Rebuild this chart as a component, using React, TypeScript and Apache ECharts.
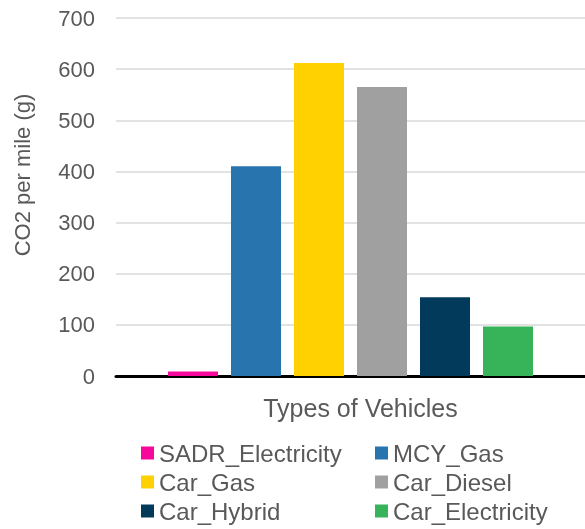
import React, { useEffect, useRef } from "react";
import * as echarts from "echarts";

// Vehicle types and their CO2 emissions per mile (grams)
const vehicleNames = [
  "SADR_Electricity",
  "MCY_Gas",
  "Car_Gas",
  "Car_Diesel",
  "Car_Hybrid",
  "Car_Electricity",
];
const co2PerMile = [9, 410, 612, 565, 154, 97];
const barColors = ["#F5089B", "#2874AE", "#FFD100", "#A0A0A0", "#023A5C", "#37B45A"];
const yTicks = { min: 0, max: 700, interval: 100 };

const FONT = "'Liberation Sans', Arial, sans-serif";
const TEXT_COLOR = "#595959";

export default function App() {
  const ref = useRef<HTMLDivElement>(null);

  useEffect(() => {
    if (!ref.current) return;
    const chart = echarts.init(ref.current, undefined, { renderer: "svg" });

    const legendCommon = {
      orient: "vertical" as const,
      top: 441,
      height: 100,
      padding: 0,
      icon: "rect",
      itemWidth: 13,
      itemHeight: 13,
      itemGap: 5,
      selectedMode: false,
      textStyle: {
        fontFamily: FONT,
        fontSize: 24,
        lineHeight: 24,
        color: TEXT_COLOR,
      },
    };

    chart.setOption({
      animation: false,
      textStyle: { fontFamily: FONT },
      grid: { left: 116, top: 18, right: 0, bottom: 153 },
      legend: [
        { ...legendCommon, left: 141, data: [vehicleNames[0], vehicleNames[2], vehicleNames[4]] },
        { ...legendCommon, left: 375, data: [vehicleNames[1], vehicleNames[3], vehicleNames[5]] },
      ],
      xAxis: {
        type: "category",
        data: [""],
        name: "Types of Vehicles",
        nameLocation: "middle",
        nameGap: 19,
        nameTextStyle: {
          fontFamily: FONT,
          fontSize: 25,
          color: TEXT_COLOR,
          padding: [0, 0, 0, 20],
        },
        axisTick: { show: false },
        axisLabel: { show: false },
        axisLine: { lineStyle: { color: "#000000", width: 3 } },
      },
      yAxis: {
        type: "value",
        min: yTicks.min,
        max: yTicks.max,
        interval: yTicks.interval,
        axisLine: { show: false },
        axisTick: { show: false },
        axisLabel: {
          margin: 21,
          fontFamily: FONT,
          fontSize: 22,
          color: TEXT_COLOR,
        },
        splitLine: { lineStyle: { color: "#D9D9D9", width: 1.5 } },
      },
      graphic: [
        {
          type: "text",
          x: 22,
          y: 175,
          rotation: Math.PI / 2,
          style: {
            text: "CO2 per mile (g)",
            fontFamily: FONT,
            fontSize: 22,
            fill: TEXT_COLOR,
            align: "center",
            verticalAlign: "middle",
          },
        },
      ],
      series: vehicleNames.map((name, i) => ({
        name,
        type: "bar",
        data: [co2PerMile[i]],
        barWidth: 50,
        barGap: "26%",
        itemStyle: { color: barColors[i] },
      })),
    });

    return () => chart.dispose();
  }, []);

  return (
    <div
      ref={ref}
      style={{ position: "fixed", left: 0, top: 0, width: 585, height: 529 }}
    />
  );
}
